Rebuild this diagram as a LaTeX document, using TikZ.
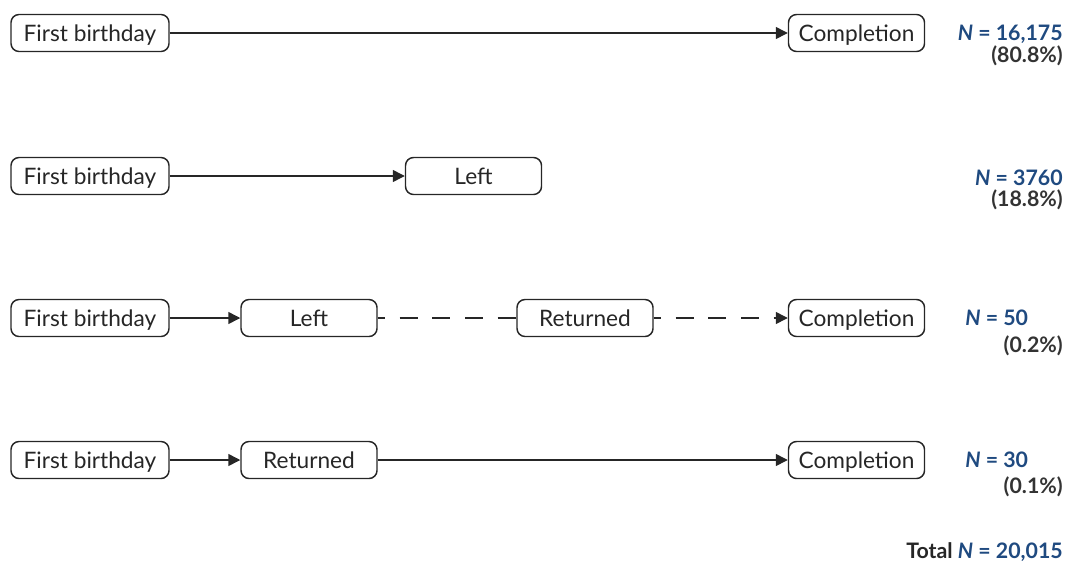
\documentclass[tikz,border=0pt]{standalone}
\usepackage{fontspec}
\setmainfont{Lato}
\usetikzlibrary{arrows.meta}
\definecolor{nblue}{HTML}{1F4A80}
\definecolor{pgray}{HTML}{333333}
\tikzset{font=\fontsize{17}{20}\selectfont}

\begin{document}
\begin{tikzpicture}[x=0.75pt,y=-0.75pt,
    every node/.style={inner sep=0pt,text=black!85},
    stage/.style={draw=black!85,rounded corners=6pt,line width=1.1pt,minimum height=27.75pt,minimum width=102pt,text height=12.2pt,text depth=0pt},
    nlabel/.style={text=nblue,font=\fontsize{16}{19}\selectfont\bfseries},
    plabel/.style={text=pgray,font=\fontsize{16}{19}\selectfont\bfseries},
    flow/.style={draw=black!85,line width=1.1pt,-{Triangle[length=9pt,width=9pt]}}]
      \useasboundingbox (0,0) rectangle (1066,564);

      \node[stage,minimum width=118.5pt] (F1) at (90,33) {First birthday};
      \node[stage] (C1) at (856.5,33) {Completion};
      \node[nlabel,anchor=east] (N1) at (1063,34) {\textit{N} = 16,175};
      \node[plabel,anchor=east] (P1) at (1063,56) {(80.8\%)};

      \node[stage,minimum width=118.5pt] (F2) at (90,176) {First birthday};
      \node[stage] (L2) at (473.5,176) {Left};
      \node[nlabel,anchor=east] (N2) at (1063,178) {\textit{N} = 3760};
      \node[plabel,anchor=east] (P2) at (1063,200) {(18.8\%)};

      \node[stage,minimum width=118.5pt] (F3) at (90,318) {First birthday};
      \node[stage] (L3) at (309,318) {Left};
      \node[stage] (R3) at (585,318) {Returned};
      \node[stage] (C3) at (856.5,318) {Completion};
      \node[nlabel,anchor=west] (N3) at (965,318) {\textit{N} = 50};
      \node[plabel,anchor=east] (P3) at (1063,346) {(0.2\%)};

      \node[stage,minimum width=118.5pt] (F4) at (90,460) {First birthday};
      \node[stage] (R4) at (309,460) {Returned};
      \node[stage] (C4) at (856.5,460) {Completion};
      \node[nlabel,anchor=west] (N4) at (965,460) {\textit{N} = 30};
      \node[plabel,anchor=east] (P4) at (1063,487) {(0.1\%)};

      \node[plabel,text=black!85,anchor=east] (T) at (1063,552) {Total \textcolor{nblue}{\textit{N} = 20,015}};

      \path (F1.east) edge[flow] node {} (C1.west);
      \path (F2.east) edge[flow] node {} (L2.west);
      \path (F3.east) edge[flow] node {} (L3.west);
      \path (L3.east) edge[flow,-,dash pattern=on 13.5pt off 11pt,dash phase=8pt] node {} (R3.west);
      \path (R3.east) edge[flow,dash pattern=on 13.5pt off 11pt,dash phase=8pt] node {} (C3.west);
      \path (F4.east) edge[flow] node {} (R4.west);
      \path (R4.east) edge[flow] node {} (C4.west);
\end{tikzpicture}
\end{document}
